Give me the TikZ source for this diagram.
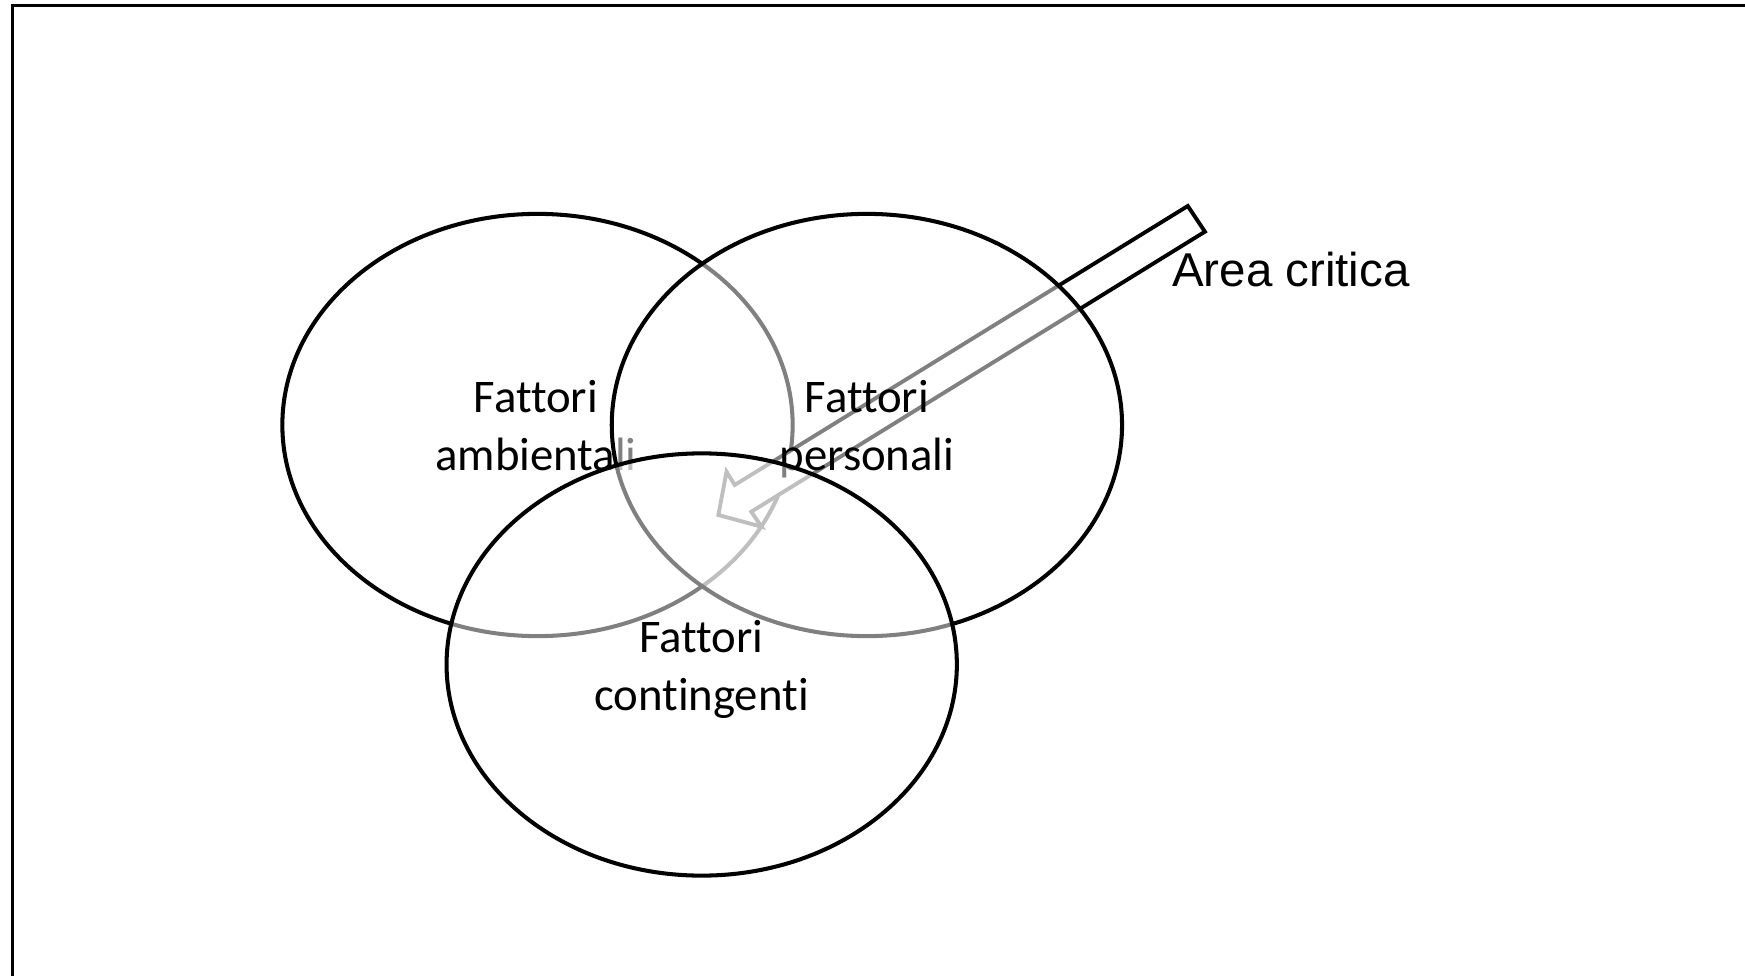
\documentclass[tikz,border=0pt]{standalone}
\usepackage{fontspec}
\setmainfont{Carlito}[Ligatures=NoCommon]
\newfontfamily\arialfont{Liberation Sans}
\usetikzlibrary{shapes.geometric}
\begin{document}
\begin{tikzpicture}[x=0.01cm,y=-0.01cm,
  venn/.style={draw=black, line width=1.15pt, ellipse, minimum width=5.10cm, minimum height=4.22cm, inner sep=0pt, fill=white},
  veil/.style={fill opacity=0.5},
  vtext/.style={font=\fontsize{13.3}{16.4}\selectfont, align=center, anchor=base, inner sep=0pt},
  arrowbox/.style={draw=black, line width=1.1pt, fill=white, line join=miter},
  boxframe/.style={draw=black, line width=0.8pt}]
\useasboundingbox (0,0) rectangle (1745,976);
\fill[white] (0,0) rectangle (1745,976);
\draw[boxframe] (12.2,5.3) rectangle (1790,1010);
% left ellipse
\node[venn] (amb) at (537.5,425) {};
\node[vtext] (tamb) at (536,470) {Fattori\\ambientali};
% block arrow
\coordinate (t1) at (1187.8,206);
\coordinate (s1) at (734.7,485);
\coordinate (b1) at (726.5,471.7);
\coordinate (tip) at (718.4,515);
\coordinate (b2) at (761.5,526.7);
\coordinate (s2) at (751.3,511.7);
\coordinate (t2) at (1204.9,231.7);
\draw[arrowbox] (t1) -- (s1) -- (b1) -- (tip) -- (b2) -- (s2) -- (t2) -- cycle;
% right ellipse
\node[venn, veil] (pers) at (866.9,425) {};
\node[vtext] (tpers) at (867,470) {Fattori\\personali};
% bottom ellipse
\node[venn, veil] (cont) at (701.7,664.5) {};
\node[vtext] (tcont) at (701.5,710.5) {Fattori\\contingenti};
% label
\node[anchor=base west, inner sep=0pt, font=\arialfont\fontsize{13.5}{16}\selectfont] (area) at (1171.5,286.5) {Area critica};
\end{tikzpicture}
\end{document}
